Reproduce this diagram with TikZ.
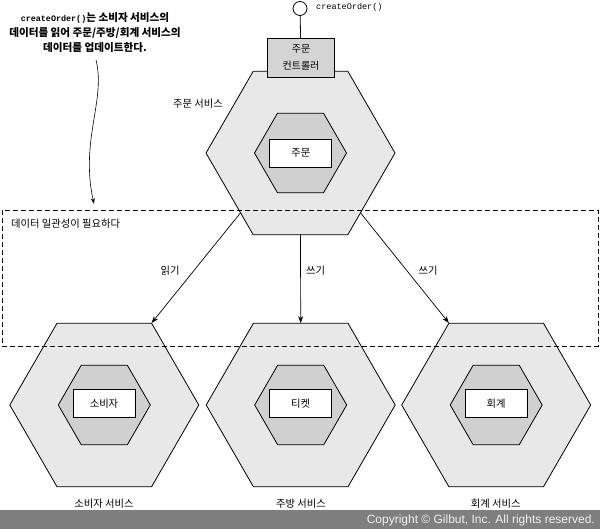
\documentclass[tikz,border=0pt]{standalone}
\usepackage{fontspec}
\setmainfont{Noto Sans CJK KR}
\newfontfamily\monofont{Liberation Mono}
\newfontfamily\copyfont{Liberation Sans}
\usetikzlibrary{shapes.geometric,arrows.meta,calc}
\definecolor{hexouter}{HTML}{E8E8E8}
\definecolor{hexinner}{HTML}{D0D0D0}
\definecolor{boxcol}{HTML}{D4D4D4}
\definecolor{barcol}{HTML}{7F7F7F}
\begin{document}
\begin{tikzpicture}[x=1pt,y=-1pt,
  outerhex/.style={regular polygon,regular polygon sides=6,minimum size=189pt,inner sep=0pt,outer sep=0pt,draw=black,fill=hexouter,line width=0.8pt},
  innerhex/.style={regular polygon,regular polygon sides=6,minimum size=92pt,inner sep=0pt,outer sep=0pt,draw=black,fill=hexinner,line width=0.8pt},
  entity/.style={draw=black,fill=white,minimum width=62pt,minimum height=28pt,inner sep=0pt,line width=0.8pt,font=\fontsize{10.3}{11}\selectfont},
  lbl/.style={inner sep=0pt,font=\fontsize{10.3}{11}\selectfont},
  flow/.style={-{Stealth[length=7pt,width=5pt]},line width=0.7pt},
]
\useasboundingbox (0,0) rectangle (600,529);
\fill[white] (0,0) rectangle (600,529);

% top service
\node[outerhex] (ordsvc) at (300.5,153) {};
\node[innerhex] (ordhex) at (300.5,153) {};
\node[entity] (ord) at (300.8,153) {주문};
\node[lbl] (ordsvclbl) at (198,104) {주문 서비스};

% controller and endpoint
\node[draw=black,fill=boxcol,line width=0.8pt,minimum width=67.7pt,minimum height=39pt,inner sep=0pt,align=center,font=\fontsize{10}{16.7}\selectfont] (ctrl) at (301,57.8) {주문\\컨트롤러};
\node[circle,draw=black,fill=white,line width=0.8pt,minimum size=14pt,inner sep=0pt] (ep) at (300,8.5) {};
\draw[line width=0.8pt] (ep) -- (ctrl);
\node[anchor=west,inner sep=0pt,font=\monofont\fontsize{8.5}{10}\selectfont] (eplbl) at (316,7.5) {createOrder()};

% bottom services
\node[outerhex] (consvc) at (104.3,405) {};
\node[innerhex] (conhex) at (104.3,405) {};
\node[entity] (con) at (104,403.3) {소비자};
\node[lbl] (consvclbl) at (104,503.3) {소비자 서비스};

\node[outerhex] (kitsvc) at (300.7,405) {};
\node[innerhex] (kithex) at (300.7,405) {};
\node[entity] (kit) at (300.7,403.3) {티켓};
\node[lbl] (kitsvclbl) at (301,503.3) {주방 서비스};

\node[outerhex] (accsvc) at (496.2,405) {};
\node[innerhex] (acchex) at (496.2,405) {};
\node[entity] (acc) at (496.2,403.3) {회계};
\node[lbl] (accsvclbl) at (495.8,503.3) {회계 서비스};

% arrows
\coordinate (s1) at ($(ordsvc.center)+(-60.1,60)$);
\coordinate (e1) at ($(consvc.center)+(47.3,-82)$);
\coordinate (s3) at ($(ordsvc.center)+(60.1,60)$);
\coordinate (e3) at ($(accsvc.center)+(-47.3,-82)$);
\draw[flow] (s1) -- (e1);
\draw[flow] (ordsvc.south) -- (kitsvc.north);
\draw[flow] (s3) -- (e3);
\node[lbl] (rd) at (170,271) {읽기};
\node[lbl] (wr1) at (315.7,271) {쓰기};
\node[lbl] (wr2) at (428,271) {쓰기};

% consistency region
\node[draw=black,dash pattern=on 5pt off 3pt,line width=0.7pt,minimum width=596pt,minimum height=136pt,inner sep=0pt] (region) at (300,278) {};
\node[lbl,anchor=west] (regionlbl) at (11,224) {데이터 일관성이 필요하다};

% annotation
\node[align=center,inner sep=0pt,font=\bfseries\fontsize{10.6}{15}\selectfont] (note) at (95,33) {{\monofont\fontsize{8.4}{15}\selectfont\bfseries createOrder()}는 소비자 서비스의\\데이터를 읽어 주문/주방/회계 서비스의\\데이터를 업데이트한다.};
\coordinate (n0) at (96,60);
\coordinate (n1) at (94,204);
\draw[-{Stealth[length=6pt,width=4pt]},line width=0.6pt] (n0) .. controls (106,100) and (80,140) .. (n1);

% copyright bar
\fill[barcol] (0,509.5) rectangle (600,529);
\node[anchor=east,inner sep=0pt,text=white!94!black,font=\copyfont\fontsize{12}{13}\selectfont] (copy) at (595,520) {Copyright © Gilbut, Inc. All rights reserved.};
\end{tikzpicture}
\end{document}
